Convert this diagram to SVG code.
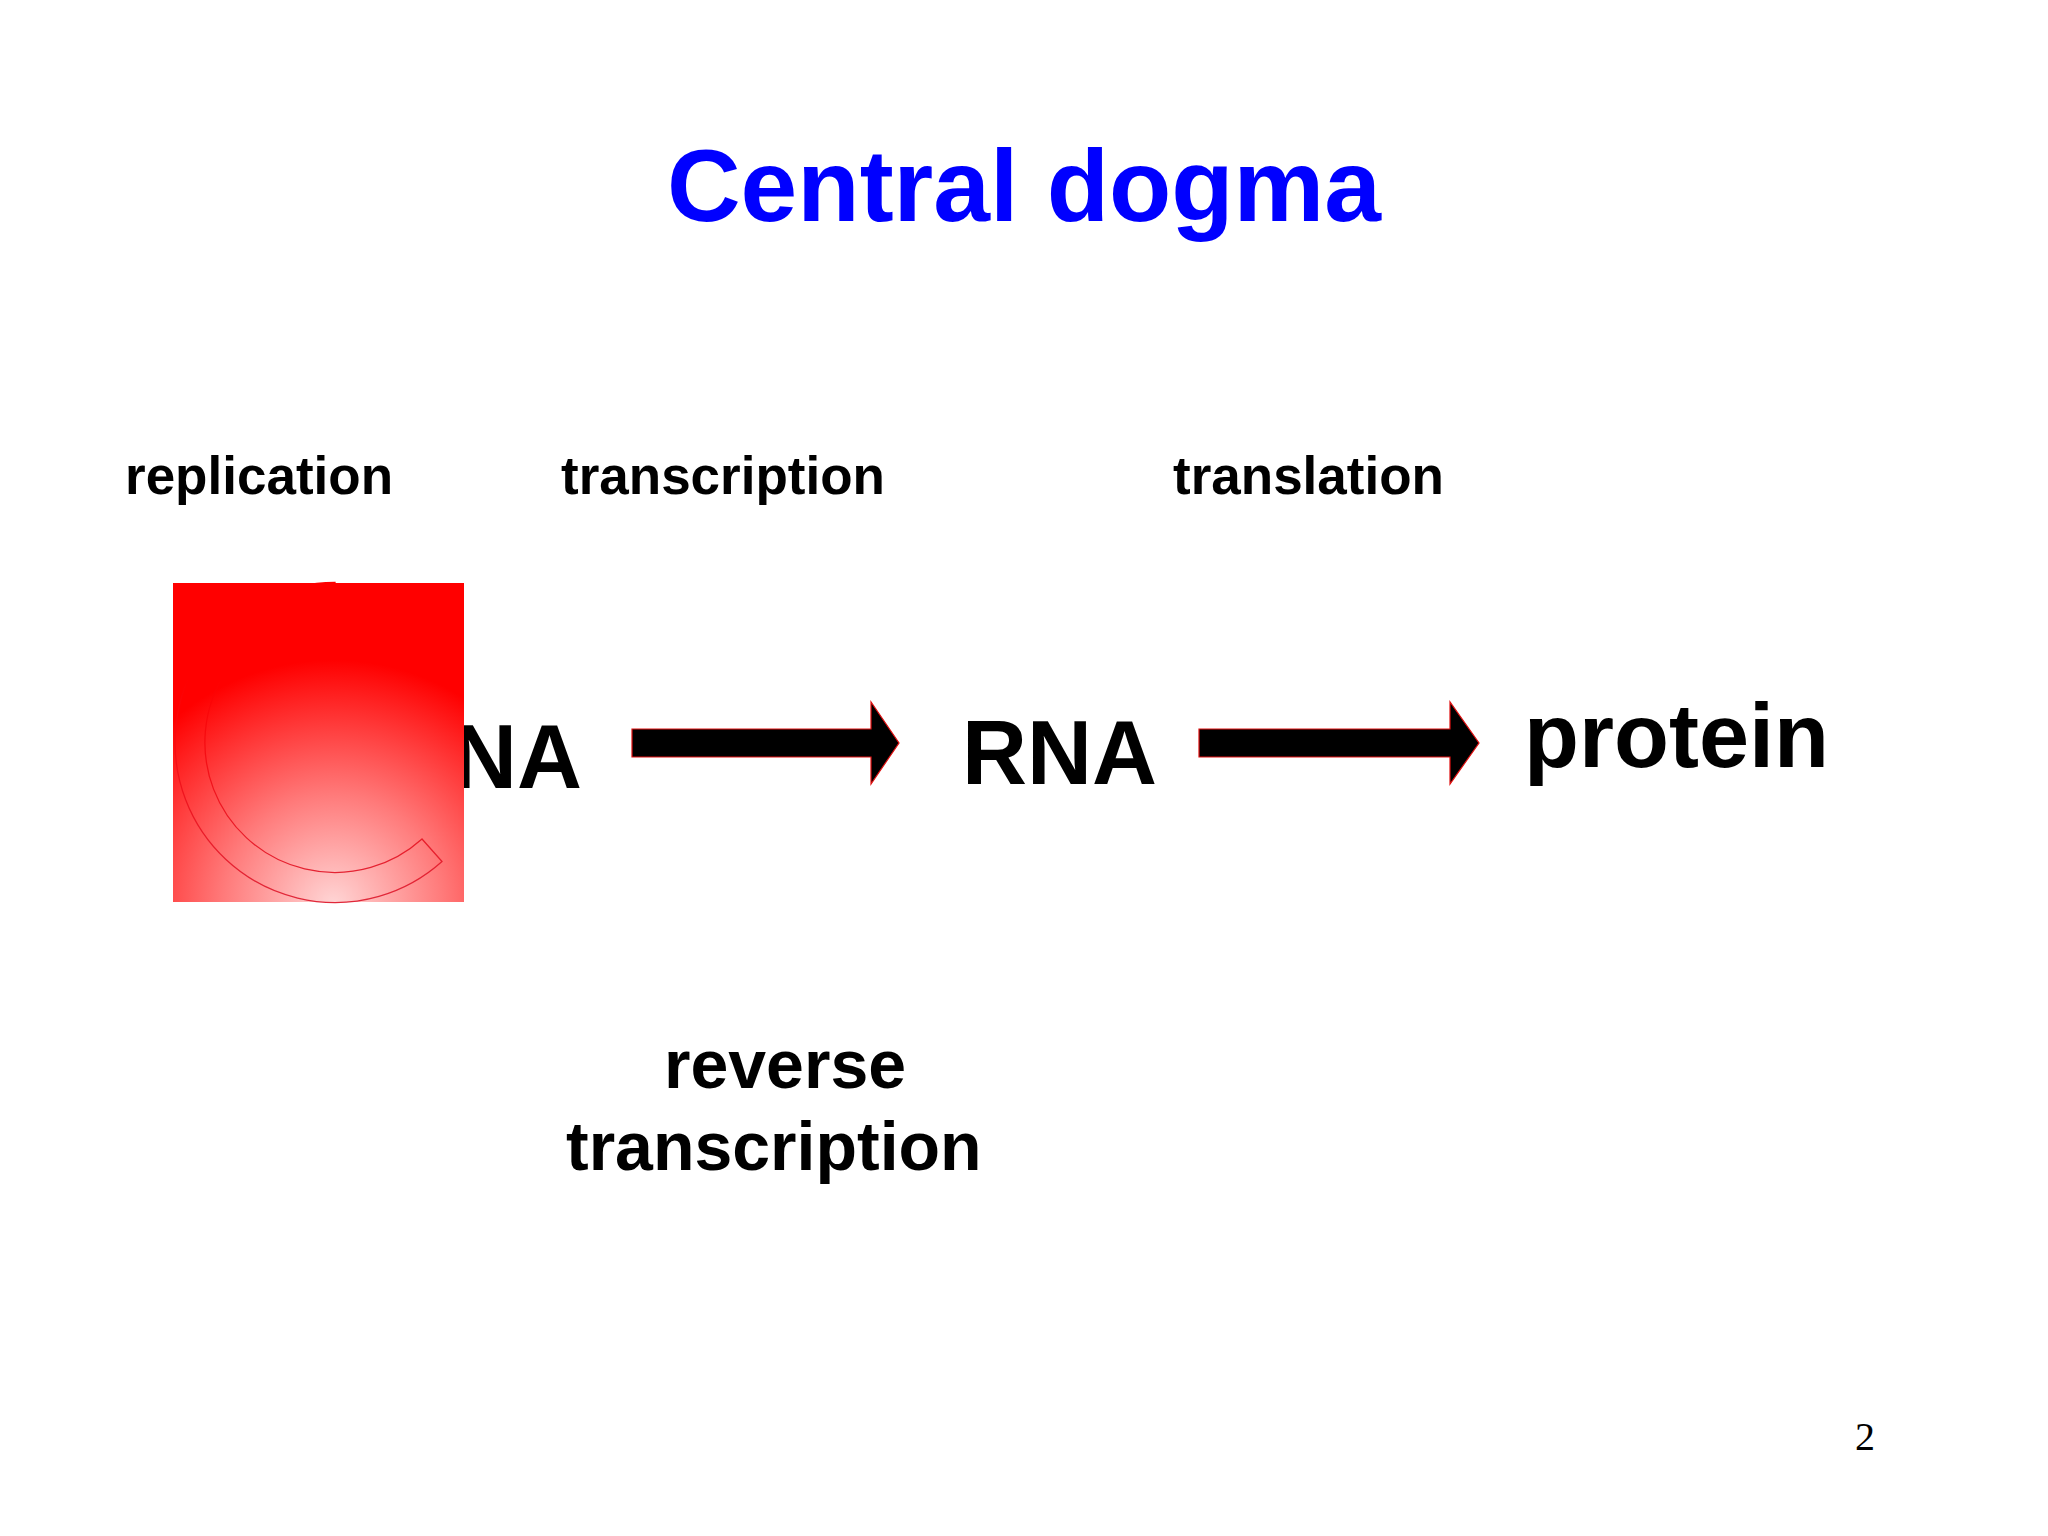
<svg xmlns="http://www.w3.org/2000/svg" width="2048" height="1536" viewBox="0 0 2048 1536">
  <style>
    .t { font-family: "Liberation Sans", Arial, sans-serif; font-weight: bold; fill: #000; }
    .lbl { font-size: 53px; }
    .big { font-size: 90px; }
    .rt { font-size: 68px; }
    .arrow { fill: #000; stroke: #e01010; stroke-width: 1.2; }
  </style>
  <defs>
    <radialGradient id="redGrad" gradientUnits="userSpaceOnUse" cx="333" cy="905" r="245">
      <stop offset="0" stop-color="#ffd6d6"/>
      <stop offset="0.45" stop-color="#ff7a7a"/>
      <stop offset="1" stop-color="#ff0000"/>
    </radialGradient>
    <linearGradient id="arcStroke" gradientUnits="userSpaceOnUse" x1="0" y1="583" x2="0" y2="902">
      <stop offset="0" stop-color="#ff0000"/>
      <stop offset="0.3" stop-color="#ff0000"/>
      <stop offset="1" stop-color="#e0283a"/>
    </linearGradient>
  </defs>
  <rect x="0" y="0" width="2048" height="1536" fill="#ffffff"/>

  <g id="title">
    <text x="1024" y="221" text-anchor="middle" font-family="Liberation Sans, Arial, sans-serif" font-weight="bold" font-size="102" fill="#0000ff">Central dogma</text>
  </g>

  <g id="label-replication"><text class="t lbl" x="125" y="494">replication</text></g>
  <g id="label-transcription"><text class="t lbl" x="561" y="494">transcription</text></g>
  <g id="label-translation"><text class="t lbl" x="1173" y="494">translation</text></g>

  <g id="node-dna">
    <text class="t big" x="387" y="788">DNA</text>
  </g>

  <g id="red-block">
    <rect x="173" y="583" width="291" height="319" fill="url(#redGrad)"/>
    <path d="M 335 582.5 A 160 160 0 1 0 442 861.5 L 422 839 A 130 130 0 1 1 335 612.5 Z" fill="url(#redGrad)" stroke="url(#arcStroke)" stroke-width="1.3"/>
  </g>

  <g id="node-rna">
    <text class="t big" x="962" y="784">RNA</text>
  </g>

  <g id="node-protein">
    <text class="t big" x="1524" y="767">protein</text>
  </g>

  <g id="connectors">
    <polygon class="arrow" points="632,729 871,729 871,702 899,743 871,784 871,757 632,757"/>
    <polygon class="arrow" points="1199,729 1450,729 1450,702 1479,743 1450,784 1450,757 1199,757"/>
  </g>

  <g id="label-reverse-transcription">
    <text class="t rt" x="664" y="1088">reverse</text>
    <text class="t rt" x="566" y="1170">transcription</text>
  </g>

  <g id="page-number">
    <text x="1855" y="1450" font-family="Liberation Serif, 'Times New Roman', serif" font-size="40" fill="#000">2</text>
  </g>
</svg>
